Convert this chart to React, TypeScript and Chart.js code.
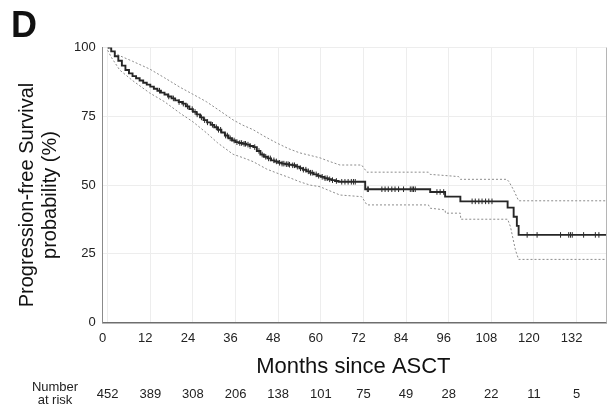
import React, { useEffect, useRef } from "react";
import { Chart, registerables } from "chart.js";

Chart.register(...registerables);

// ---- Data ----
const monthTicks = [0, 12, 24, 36, 48, 60, 72, 84, 96, 108, 120, 132];
const atRisk = [452, 389, 308, 206, 138, 101, 75, 49, 28, 22, 11, 5];
const yTicks = [0, 25, 50, 75, 100];

const pfsTime = [0, 1, 2, 3, 4, 5, 6, 7, 8, 9, 10, 11, 12, 13, 14, 15, 16, 17, 18, 19, 20, 21, 22, 23, 24, 25, 26, 27, 28, 29, 30, 31, 32, 33, 34, 35, 36, 37, 38, 39, 40, 41, 42, 43, 44, 45, 46, 47, 48, 49, 50, 51, 52, 53, 54, 55, 56, 57, 58, 59, 60, 61, 62, 63, 64, 65, 72.5, 90.8, 95, 99.3, 112.6, 114.3, 115.2, 115.7, 140.3];
const pfsSurv = [100, 98.6, 96.8, 95.2, 93.4, 91.8, 90.6, 89.6, 88.8, 88.0, 87.2, 86.5, 85.8, 85.0, 84.3, 83.6, 82.9, 82.2, 81.5, 80.8, 80.2, 79.6, 78.6, 77.6, 76.6, 75.7, 74.6, 73.6, 72.8, 71.9, 71.0, 70.1, 69.1, 68.0, 67.0, 66.2, 65.6, 65.3, 65.0, 64.7, 64.2, 63.8, 62.4, 61.1, 60.3, 59.7, 59.0, 58.6, 58.1, 57.8, 57.6, 57.4, 57.2, 56.7, 56.1, 55.6, 55.0, 54.5, 53.9, 53.4, 53.0, 52.5, 52.1, 51.8, 51.5, 51.2, 48.5, 47.5, 45.8, 44.1, 41.8, 38.5, 35.2, 31.9, 31.9];

const upperTime = [0, 1.5, 3.4, 7, 11.8, 16, 20.3, 24, 27.8, 31, 35.3, 38, 41, 44, 47.6, 51, 54.1, 57, 59.8, 62, 65.4, 71.5, 73, 90.3, 90.8, 98.8, 99.3, 112.4, 113, 114.3, 115.7, 140.3];
const upperSurv = [100, 98.5, 97, 95, 92.2, 89, 85.6, 83, 80.3, 77.5, 73.7, 71.8, 70.1, 67.8, 65.3, 63.2, 61.7, 60.8, 59.9, 58.8, 57.3, 57.3, 54.7, 54.7, 53.9, 53.1, 52.1, 52.1, 51.2, 48.2, 44.3, 44.3];

const lowerTime = [0, 1, 3.4, 7, 11.8, 16, 20.3, 24, 27.8, 31, 35.3, 38, 41, 44.8, 48, 51, 54.1, 57, 59.8, 62, 65.4, 71.5, 73, 90.3, 90.8, 95, 95.1, 99.3, 99.4, 112.6, 113.4, 114.8, 115.7, 140.3];
const lowerSurv = [99, 96.5, 91.8, 88, 83.5, 80.3, 76.2, 73, 69, 65.3, 61.2, 60, 58.5, 55.8, 54.2, 52.8, 51.2, 50, 49.4, 48.2, 46.4, 45.8, 42.8, 42.8, 41.6, 41, 39.8, 39.8, 37.6, 37.6, 34.9, 26.4, 23.0, 23.0];

const censorTimes = [14.6, 17.2, 18.5, 20.1, 21.3, 22.5, 23.8, 24.6, 25.2, 26.4, 27.3, 28.1, 29.5, 30.6, 31.2, 31.8, 33.2, 33.7, 34.5, 35.6, 36.4, 37.2, 37.7, 38.4, 38.8, 39.5, 40.1, 41.4, 42.6, 43.5, 44.5, 45.3, 45.8, 46.8, 47.5, 48.4, 49.1, 49.6, 50.3, 50.8, 51.2, 52.1, 52.6, 53.4, 54.3, 55.1, 55.8, 56.5, 57.1, 57.6, 58.7, 59.4, 60.4, 61.2, 61.8, 62.5, 63.3, 64.4, 65.9, 66.8, 67.7, 68.6, 69.2, 69.7, 73.1, 73.4, 77.2, 78.1, 79.0, 80.0, 80.9, 81.9, 83.3, 85.2, 85.7, 86.1, 86.6, 92.7, 93.6, 94.6, 102.6, 103.5, 104.5, 105.4, 106.4, 107.3, 108.2, 118.1, 120.9, 127.5, 129.8, 130.3, 130.8, 134.0, 137.3, 138.3];

const xTitle = "Months since ASCT";
const yTitle1 = "Progression-free Survival";
const yTitle2 = "probability (%)";
const panelLabel = "D";

function stepAt(t: number): number {
  let v = pfsSurv[0];
  for (let i = 0; i < pfsTime.length; i++) {
    if (pfsTime[i] <= t) v = pfsSurv[i];
    else break;
  }
  return v;
}

const FONT = "'Liberation Sans', Arial, Helvetica, sans-serif";

const decorPlugin = {
  id: "decor",
  afterDraw(chart: any) {
    const ctx = chart.ctx;
    const area = chart.chartArea;
    const xs = chart.scales.x;
    ctx.save();
    // right border
    ctx.strokeStyle = "#b5b5b5";
    ctx.lineWidth = 1;
    ctx.beginPath();
    ctx.moveTo(area.right + 0.5, area.top);
    ctx.lineTo(area.right + 0.5, area.bottom);
    ctx.stroke();

    ctx.fillStyle = "#111";
    // Panel label
    ctx.font = `bold 36px ${FONT}`;
    ctx.textAlign = "left";
    ctx.textBaseline = "alphabetic";
    ctx.fillText(panelLabel, 11, 37);

    // Y title
    ctx.save();
    ctx.translate(27, 195);
    ctx.rotate(-Math.PI / 2);
    ctx.font = `20px ${FONT}`;
    ctx.textAlign = "center";
    ctx.textBaseline = "middle";
    ctx.fillText(yTitle1, 0, 0);
    ctx.fillText(yTitle2, 0, 23);
    ctx.restore();

    // X title
    ctx.font = `22px ${FONT}`;
    ctx.textAlign = "center";
    ctx.textBaseline = "alphabetic";
    ctx.fillText(xTitle, (area.left + area.right) / 2 - 1, 373);

    // Number at risk
    ctx.font = `13px ${FONT}`;
    ctx.fillStyle = "#222";
    ctx.fillText("Number", 55, 391);
    ctx.fillText("at risk", 55, 404);
    atRisk.forEach((n, i) => {
      ctx.fillText(String(n), xs.getPixelForValue(monthTicks[i]), 397.5);
    });
    ctx.restore();
  },
};

export default function App() {
  const ref = useRef<HTMLCanvasElement | null>(null);
  useEffect(() => {
    if (!ref.current) return;
    const chart = new Chart(ref.current, {
      type: "line",
      data: {
        datasets: [
          {
            label: "PFS",
            data: pfsTime.map((t, i) => ({ x: t, y: pfsSurv[i] })),
            stepped: true,
            borderColor: "#262626",
            borderWidth: 1.9,
            pointRadius: 0,
            fill: false,
            order: 1,
          },
          {
            label: "Upper",
            data: upperTime.map((t, i) => ({ x: t, y: upperSurv[i] })),
            borderColor: "#8c8c8c",
            borderWidth: 1,
            borderDash: [2, 2],
            pointRadius: 0,
            fill: false,
            order: 2,
          },
          {
            label: "Lower",
            data: lowerTime.map((t, i) => ({ x: t, y: lowerSurv[i] })),
            borderColor: "#8c8c8c",
            borderWidth: 1,
            borderDash: [2, 2],
            pointRadius: 0,
            fill: false,
            order: 3,
          },
          {
            label: "Censored",
            data: censorTimes.map((t) => ({ x: t, y: stepAt(t) })),
            showLine: false,
            pointStyle: "line",
            rotation: 90,
            pointRadius: 2.8,
            borderColor: "#2a2a2a",
            borderWidth: 1,
            pointBackgroundColor: "#2a2a2a",
            pointBorderColor: "#2a2a2a",
            order: 0,
          },
        ],
      },
      options: {
        responsive: false,
        animation: false,
        devicePixelRatio: 1,
        layout: { padding: { top: 47.5, right: 5, left: 0, bottom: 0 } },
        plugins: {
          legend: { display: false },
          tooltip: { enabled: false },
        },
        scales: {
          x: {
            type: "linear",
            min: -1.4,
            max: 140.3,
            afterBuildTicks: (s: any) => {
              s.ticks = monthTicks.map((v) => ({ value: v }));
            },
            afterFit: (s: any) => {
              s.height = 83.3;
            },
            grid: { color: "#ededed", lineWidth: 1, drawTicks: false },
            border: { display: true, color: "#6e6e6e", width: 1.5 },
            ticks: {
              autoSkip: false,
              maxRotation: 0,
              padding: 8,
              labelOffset: -5,
              color: "#222",
              font: { size: 13, family: FONT },
            },
          },
          y: {
            type: "linear",
            min: 0,
            max: 100,
            afterBuildTicks: (s: any) => {
              s.ticks = yTicks.map((v) => ({ value: v }));
            },
            afterFit: (s: any) => {
              s.width = 102.7;
            },
            grid: { color: "#ededed", lineWidth: 1, drawTicks: false },
            border: { display: true, color: "#8a8a8a", width: 1 },
            ticks: {
              padding: 7,
              color: "#222",
              font: { size: 13, family: FONT },
            },
          },
        },
      },
      plugins: [decorPlugin],
    });
    return () => chart.destroy();
  }, []);
  return (
    <div style={{ position: "fixed", left: 0, top: 0, width: 611, height: 406, background: "#fff" }}>
      <canvas ref={ref} width={611} height={406} style={{ width: 611, height: 406, display: "block" }} />
    </div>
  );
}
